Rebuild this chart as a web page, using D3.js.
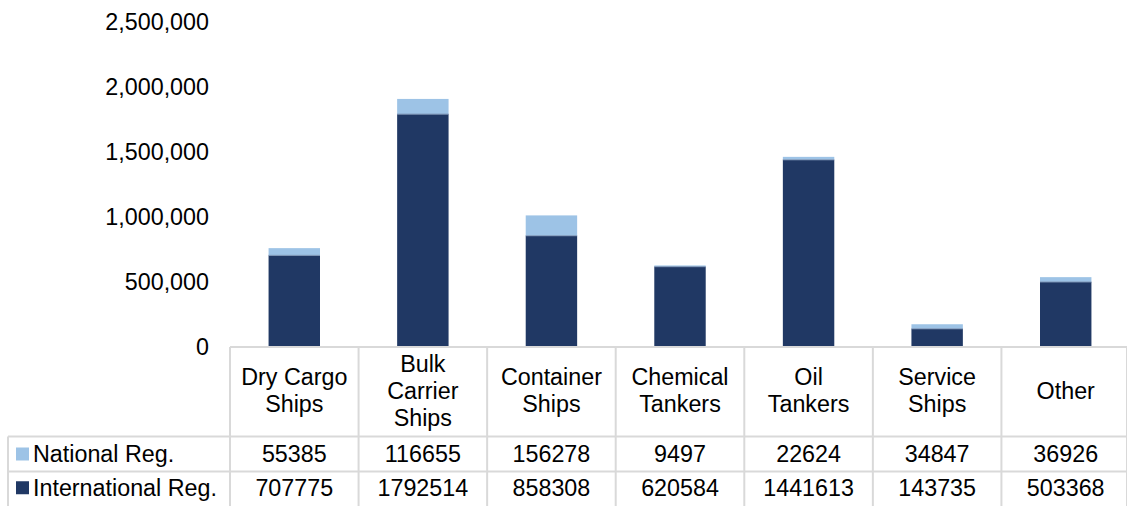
<!DOCTYPE html>
<html><head><meta charset="utf-8">
<script src="https://cdn.jsdelivr.net/npm/d3@7"></script>
<style>body{margin:0;background:#fff}svg{display:block;font-family:"Liberation Sans",Arial,sans-serif}</style>
</head><body><svg id="c" width="1127" height="506"></svg>
<script>
const categories = [["Dry Cargo","Ships"],["Bulk","Carrier","Ships"],["Container","Ships"],["Chemical","Tankers"],["Oil","Tankers"],["Service","Ships"],["Other"]];
const seriesNames = ["National Reg.","International Reg."];
const national = [55385,116655,156278,9497,22624,34847,36926];
const international = [707775,1792514,858308,620584,1441613,143735,503368];
const yTicks = [0,500000,1000000,1500000,2000000,2500000];
const colors = {national:"#9dc3e6", international:"#203864"};

const FS = 23.3;
const svg = d3.select("#c");
const plotLeft = 230, plotRight = 1130, plotTop = 22, plotBase = 347.5;
const keys = categories.map((c,i)=>i);
const x = d3.scaleBand().domain(keys).range([plotLeft,plotRight]).paddingInner(0.6).paddingOuter(0.3);
const xc = d3.scaleBand().domain(keys).range([plotLeft,plotRight]);
const y = d3.scaleLinear().domain([0,2500000]).range([plotBase,plotTop]);

// y axis
const ya = svg.append("g").attr("transform","translate(209,0)")
  .call(d3.axisLeft(y).tickValues(yTicks).tickSize(0).tickPadding(0).tickFormat(d3.format(",")));
ya.select(".domain").remove();
ya.selectAll("text").attr("font-size",FS).attr("fill","#000").attr("font-family","Liberation Sans, Arial, sans-serif");

// bars
const data = keys.map(i=>({i, intl: international[i], nat: national[i]}));
svg.append("g").selectAll("rect").data(data).join("rect")
  .attr("x",d=>x(d.i)).attr("width",x.bandwidth())
  .attr("y",d=>y(d.intl)).attr("height",d=>y(0)-y(d.intl))
  .attr("fill",colors.international);
svg.append("g").selectAll("rect").data(data).join("rect")
  .attr("x",d=>x(d.i)).attr("width",x.bandwidth())
  .attr("y",d=>y(d.intl+d.nat)).attr("height",d=>y(d.intl)-y(d.intl+d.nat))
  .attr("fill",colors.national);
svg.append("g").selectAll("line").data(data).join("line")
  .attr("x1",d=>x(d.i)).attr("x2",d=>x(d.i)+x.bandwidth())
  .attr("y1",d=>y(d.intl)).attr("y2",d=>y(d.intl))
  .attr("stroke","#7f97b8").attr("stroke-width",1);

// table
const gridColor = "#d9d9d9";
const rowTop = 347, row1 = 436.5, row2 = 471.5, rowBot = 508;
const t = svg.append("g").attr("stroke",gridColor).attr("stroke-width",2).attr("fill","none");
t.append("line").attr("x1",plotLeft).attr("x2",plotRight).attr("y1",rowTop).attr("y2",rowTop);
t.append("line").attr("x1",8).attr("x2",plotRight).attr("y1",row1).attr("y2",row1);
t.append("line").attr("x1",8).attr("x2",plotRight).attr("y1",row2).attr("y2",row2);
t.append("line").attr("x1",8).attr("x2",8).attr("y1",row1).attr("y2",rowBot);
keys.forEach(i=>{
  t.append("line").attr("x1",xc(i)).attr("x2",xc(i)).attr("y1",rowTop).attr("y2",rowBot);
});
t.append("line").attr("x1",plotRight-3).attr("x2",plotRight-3).attr("y1",rowTop).attr("y2",rowBot);

// category labels
const lab = svg.append("g").attr("font-size",FS).attr("text-anchor","middle").attr("fill","#000");
categories.forEach((lines,i)=>{
  const cx = xc(i)+xc.bandwidth()/2;
  const mid = (rowTop+row1)/2 - 1;
  const lh = 27;
  lines.forEach((s,k)=>{
    lab.append("text").attr("x",cx).attr("y",mid+(k-(lines.length-1)/2)*lh).attr("dy","0.35em").text(s);
  });
});

// data rows
const rows = [{name:seriesNames[0], vals:national, color:colors.national, y0:row1, y1:row2, off:0},
              {name:seriesNames[1], vals:international, color:colors.international, y0:row2, y1:506, off:-1}];
rows.forEach(r=>{
  const cy = (r.y0+r.y1)/2 + r.off;
  svg.append("rect").attr("x",16).attr("y",cy-6.5).attr("width",13).attr("height",13).attr("fill",r.color);
  svg.append("text").attr("x",33).attr("y",cy).attr("dy","0.35em").attr("font-size",FS).attr("fill","#000").text(r.name);
  r.vals.forEach((v,i)=>{
    svg.append("text").attr("x",xc(i)+xc.bandwidth()/2).attr("y",cy).attr("dy","0.35em")
      .attr("text-anchor","middle").attr("font-size",FS).attr("fill","#000").text(v);
  });
});
</script></body></html>
